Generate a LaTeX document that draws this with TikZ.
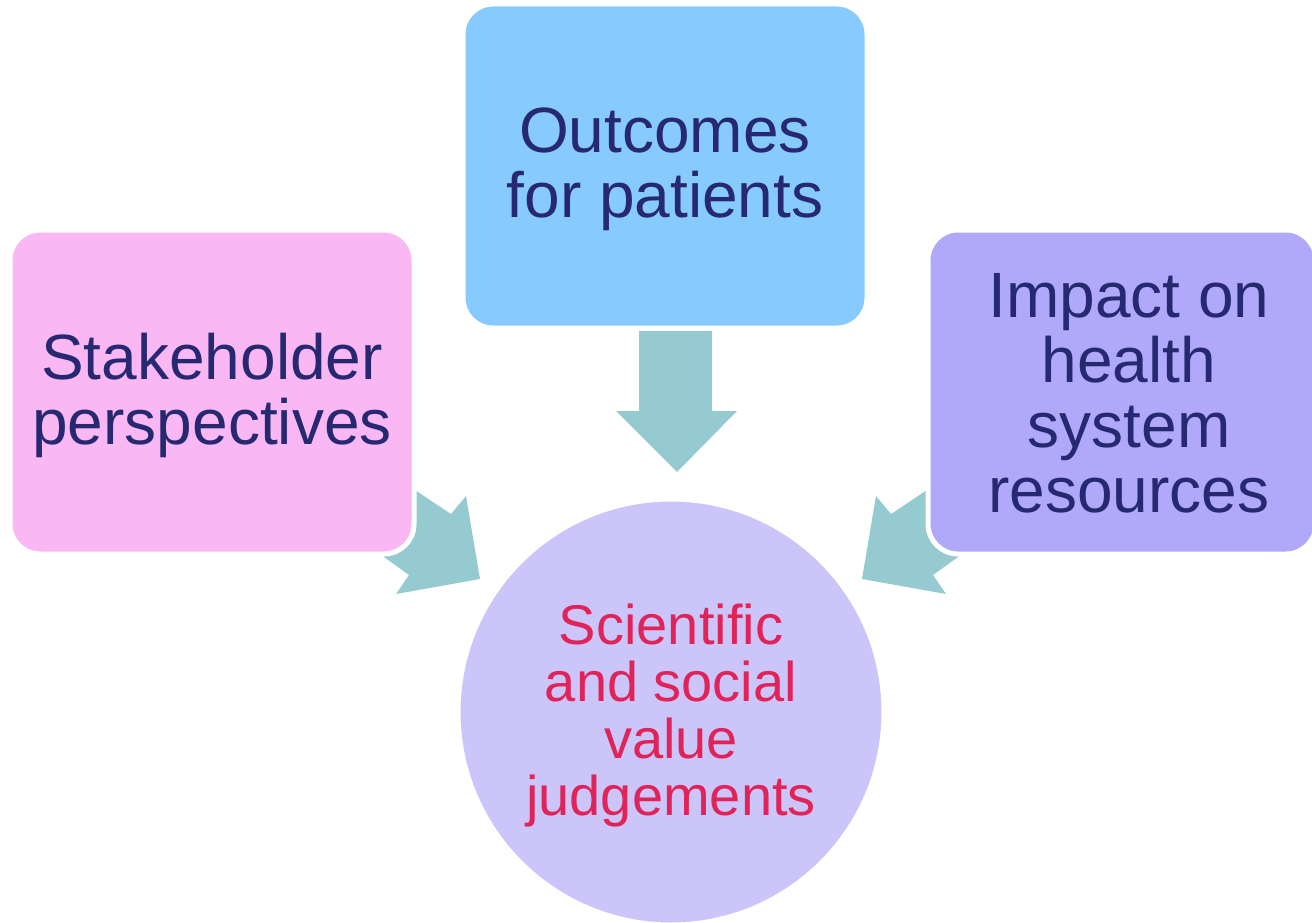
\documentclass[tikz,border=0pt]{standalone}
\usepackage{fontspec}
\setmainfont{Liberation Sans}
\definecolor{navytext}{HTML}{262870}
\definecolor{redtext}{HTML}{E0245A}
\definecolor{bluebox}{HTML}{87CBFE}
\definecolor{pinkbox}{HTML}{F9B7F4}
\definecolor{violetbox}{HTML}{B0A8F9}
\definecolor{circlefill}{HTML}{CBC5FA}
\definecolor{arrowfill}{HTML}{94CAD0}
\begin{document}
\begin{tikzpicture}[x=1pt,y=-1pt,
  boxstyle/.style={rectangle, rounded corners=30pt, draw=white, line width=5pt, inner sep=0pt,
    minimum width=404pt, minimum height=324pt},
  navylabel/.style={align=center, text=navytext, font=\fontsize{64}{65}\selectfont},
  blockarrow/.style={fill=arrowfill, draw=none}]
\useasboundingbox (0,0) rectangle (1312,923);
% block arrows (behind boxes)
\draw[blockarrow] (368,459) -- (418,492) -- (451,514) -- (466,496) -- (480,579) -- (396,594) -- (409,575) -- (384,557) -- (334,521) -- cycle;
\draw[blockarrow] (974,459) -- (924,492) -- (891,514) -- (876,496) -- (862,579) -- (946,594) -- (933,575) -- (958,557) -- (1008,521) -- cycle;
\draw[blockarrow] (639,331) -- (712,331) -- (712,411) -- (737,411) -- (677,472) -- (616,411) -- (639,411) -- cycle;
% boxes
\node[boxstyle, fill=bluebox] (outcomes) at (665,166) {};
\node[boxstyle, fill=pinkbox] (stake) at (212,392) {};
\node[boxstyle, fill=violetbox, minimum width=388pt] (impact) at (1122,392) {};
\node[circle, fill=circlefill, draw=white, line width=3pt, minimum size=424pt, inner sep=0pt] (judge) at (671,712) {};
% labels
\node[navylabel] (outcomesT) at (665,169) {Outcomes\\for patients};
\node[navylabel] (stakeT) at (212,395) {Stakeholder\\perspectives};
\node[navylabel] (impactT) at (1129,393) {Impact on\\health\\system\\resources};
\node[align=center, text=redtext, font=\fontsize{56}{57}\selectfont] (judgeT) at (671,716) {Scientific\\and social\\value\\judgements};
\end{tikzpicture}
\end{document}
